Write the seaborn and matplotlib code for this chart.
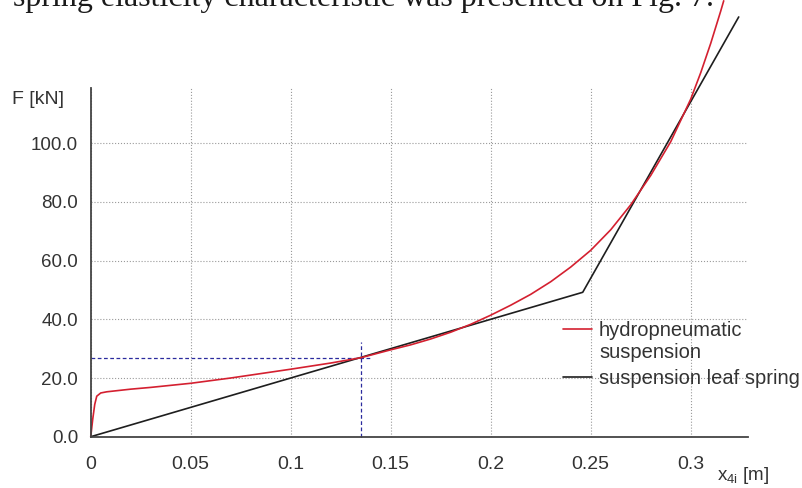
import matplotlib.pyplot as plt
from matplotlib.lines import Line2D
import seaborn as sns

# Hydropneumatic suspension characteristic (deflection [m], force [kN])
hydro_x = [0, 0.001, 0.002, 0.003, 0.005, 0.008, 0.02, 0.03, 0.05, 0.07, 0.08, 0.09, 0.1,
           0.12, 0.135, 0.15, 0.16, 0.17, 0.18, 0.19, 0.2, 0.21, 0.22, 0.23, 0.24, 0.25,
           0.26, 0.27, 0.28, 0.29, 0.3, 0.305, 0.31, 0.315, 0.3165]
hydro_F = [0, 6.0, 11.0, 13.8, 14.9, 15.3, 16.2, 16.8, 18.2, 20.0, 21.0, 22.0, 23.0,
           25.1, 26.9, 29.6, 31.3, 33.3, 35.6, 38.3, 41.4, 44.8, 48.5, 52.8, 57.8, 63.5,
           70.5, 79.0, 89.0, 100.5, 115.0, 124.0, 134.0, 145.0, 148.5]

# Leaf spring characteristic
leaf_x = [0, 0.246, 0.324]
leaf_F = [0, 49.2, 143.0]

# Operating point guides
guide_h_x = [0, 0.14]
guide_h_F = [26.9, 26.9]
guide_v_x = [0.135, 0.135]
guide_v_F = [0, 32.4]

x_ticks = [0, 0.05, 0.1, 0.15, 0.2, 0.25, 0.3]
x_tick_labels = ['0', '0.05', '0.1', '0.15', '0.2', '0.25', '0.3']
y_ticks = [0, 20, 40, 60, 80, 100]
y_tick_labels = ['0.0', '20.0', '40.0', '60.0', '80.0', '100.0']

sns.set_style('white')
plt.rcParams['font.family'] = ['Liberation Sans', 'DejaVu Sans']

fig = plt.figure(figsize=(8.03, 4.88), dpi=100)
ax = fig.add_axes([0.1130, 0.1051, 0.8189, 0.7146])

sns.lineplot(x=guide_h_x, y=guide_h_F, color='#2b2b9e', lw=0.9, linestyle=(0, (3, 2)),
             estimator=None, sort=False, ax=ax)
sns.lineplot(x=guide_v_x, y=guide_v_F, color='#2b2b9e', lw=0.9, linestyle=(0, (3, 2)),
             estimator=None, sort=False, ax=ax)
sns.lineplot(x=leaf_x, y=leaf_F, color='#1e1e1e', lw=1.2, estimator=None, sort=False, ax=ax)
sns.lineplot(x=hydro_x, y=hydro_F, color='#d42030', lw=1.2, estimator=None, sort=False, ax=ax)
for line in ax.lines:
    line.set_clip_on(False)

ax.set_xlim(0, 0.3288)
ax.set_ylim(0, 118.8)
ax.set_xticks(x_ticks)
ax.set_xticklabels(x_tick_labels)
ax.set_yticks(y_ticks)
ax.set_yticklabels(y_tick_labels)
ax.tick_params(axis='both', direction='out', length=5, width=1, color='#444444',
               labelcolor='#333333')
ax.tick_params(axis='x', pad=9, labelsize=14)
ax.tick_params(axis='y', pad=4, labelsize=13.5)
ax.grid(True, linestyle=':', color='#9a9a9a', lw=0.8)
for s in ['top', 'right']:
    ax.spines[s].set_visible(False)
for s in ['left', 'bottom']:
    ax.spines[s].set_color('#444444')
    ax.spines[s].set_linewidth(1.3)
ax.set_xlabel('')
ax.set_ylabel('')

# axis titles
fig.text(12 / 803, 1 - 100 / 488, 'F [kN]', fontsize=14, color='#333333', va='center')
fig.text(717 / 803, 1 - 476 / 488, r'x$_{\mathregular{4i}}$ [m]', fontsize=13.5,
         color='#333333', va='center')

# legend drawn by hand so the red line sits level with the first text line
fig.add_artist(Line2D([563 / 803, 592 / 803], [1 - 329 / 488, 1 - 329 / 488],
                      color='#d42030', lw=1.2))
fig.text(599 / 803, 1 - 331 / 488, 'hydropneumatic', fontsize=14.5, color='#333333', va='center')
fig.text(599 / 803, 1 - 353 / 488, 'suspension', fontsize=14.5, color='#333333', va='center')
fig.add_artist(Line2D([563 / 803, 592 / 803], [1 - 377 / 488, 1 - 377 / 488],
                      color='#1e1e1e', lw=1.2))
fig.text(599 / 803, 1 - 378 / 488, 'suspension leaf spring', fontsize=14.5, color='#333333',
         va='center')

# cropped caption line from the source page
fig.text(13 / 803, 1 - 6 / 488, 'spring elasticity characteristic was presented on Fig. 7.',
         family='Liberation Serif', fontsize=23, color='#1a1a1a', va='baseline')

fig.savefig('out.png', dpi=100)
